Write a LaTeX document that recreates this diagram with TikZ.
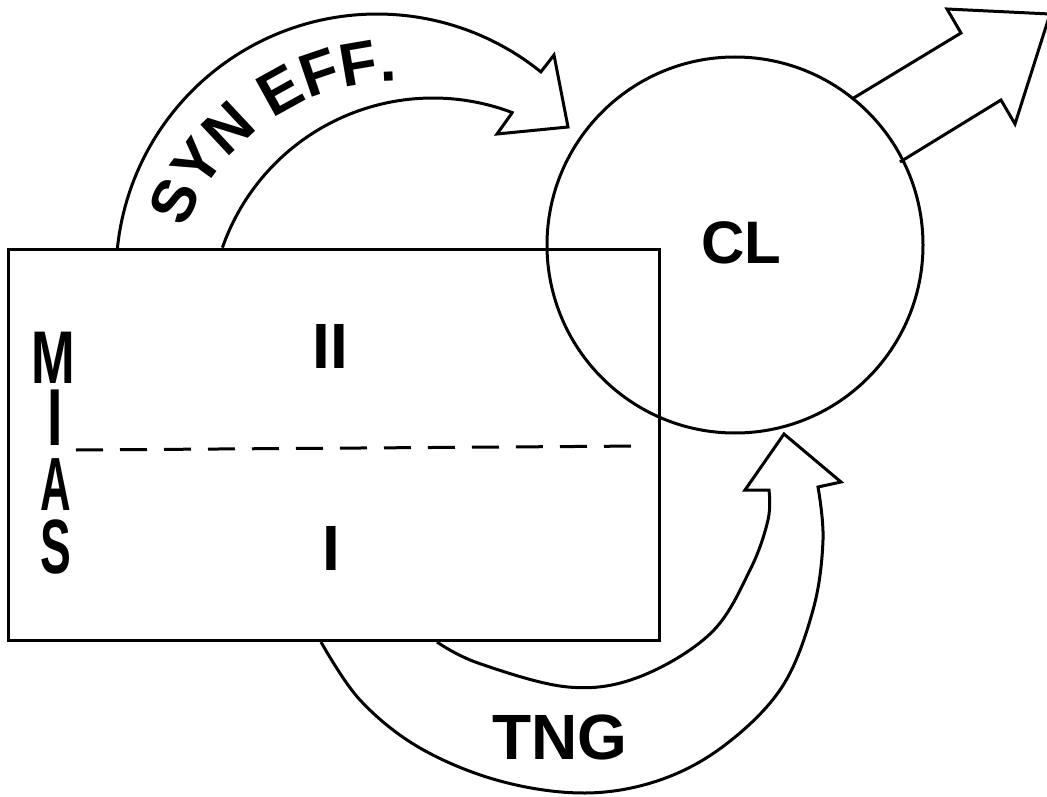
\documentclass[tikz,border=0pt]{standalone}
\usepackage{fontspec}
\usepackage{graphicx}
\setmainfont{Liberation Sans}
\usetikzlibrary{decorations.text}
\newcommand\synfont{\bfseries\fontsize{61}{61}\selectfont}
\begin{document}
\begin{tikzpicture}[x=1pt,y=-1pt,line width=3pt,line join=miter,
  outl/.style={draw,line width=3pt},
  bigtxt/.style={inner sep=0pt,font=\bfseries\fontsize{64}{64}\selectfont},
  cltxt/.style={inner sep=0pt,font=\bfseries\fontsize{60}{60}\selectfont},
  miastxt/.style={inner sep=0pt,font=\bfseries\fontsize{77}{77}\selectfont},
  divider/.style={line width=3pt,dash pattern=on 27pt off 17pt}]
\useasboundingbox (0,0) rectangle (1047,797);
\fill[white] (0,0) rectangle (1047,797);

% main box and circle
\node[outl,rectangle,minimum width=651pt,minimum height=391pt,inner sep=0pt] (box) at (334,445) {};
\node[outl,circle,minimum size=376pt,inner sep=0pt] (cl) at (735,245) {};

% dashed divider
\coordinate (dl) at (76,450);
\coordinate (dr) at (645,446);
\draw[divider] (dl) -- (dr);

% labels
\node[cltxt] (cltext) at (741,243) {CL};
\node[bigtxt] (two) at (330,346) {II};
\node[bigtxt] (one) at (331,548) {I};
\node[bigtxt] (tng) at (560,737) {TNG};
\node[miastxt] (m1) at (53,358) {\scalebox{0.68}[0.97]{M}};
\node[miastxt] (m2) at (55,418) {\scalebox{0.72}[1.05]{I}};
\node[miastxt] (m3) at (56,485) {\scalebox{0.55}[0.98]{A}};
\node[miastxt] (m4) at (56,547) {\scalebox{0.6}[1]{S}};

% top curved arrow (SYN EFF.)
\draw[outl] plot[domain=185.9:308.9,samples=80,variable=\t] ({377+261*cos(\t)},{275+261*sin(\t)})
  -- (554,55) -- (568,127) -- (497,134) -- (512,113)
  -- plot[domain=290.8:199.2,samples=80,variable=\t] ({433+223*cos(\t)},{321+223*sin(\t)});
\path[decorate,decoration={text along path,text={|\synfont|SYN EFF.},text align=center}]
  plot[domain=195:275,samples=80,variable=\t] ({398+226*cos(\t)},{307+226*sin(\t)});

% bottom curved arrow (TNG)
\draw[outl] plot[smooth,tension=0.6] coordinates {(321,642) (360,700) (420,748) (500,781) (585,793) (660,780) (725,745) (782,687) (813,610) (823,540) (818,487)}
  -- (841,482) -- (784,434) -- (745,490) -- (769,490)
  -- plot[smooth,tension=0.6] coordinates {(769,490) (768,520) (750,570) (711,633) (639,677) (568,687) (478,663) (437,642)};

% outgoing arrow from the circle
\draw[outl] (852,99) -- (961,33) -- (947,9) -- (1050,14) -- (1015,124) -- (1001,100) -- (900,162);
\end{tikzpicture}
\end{document}
